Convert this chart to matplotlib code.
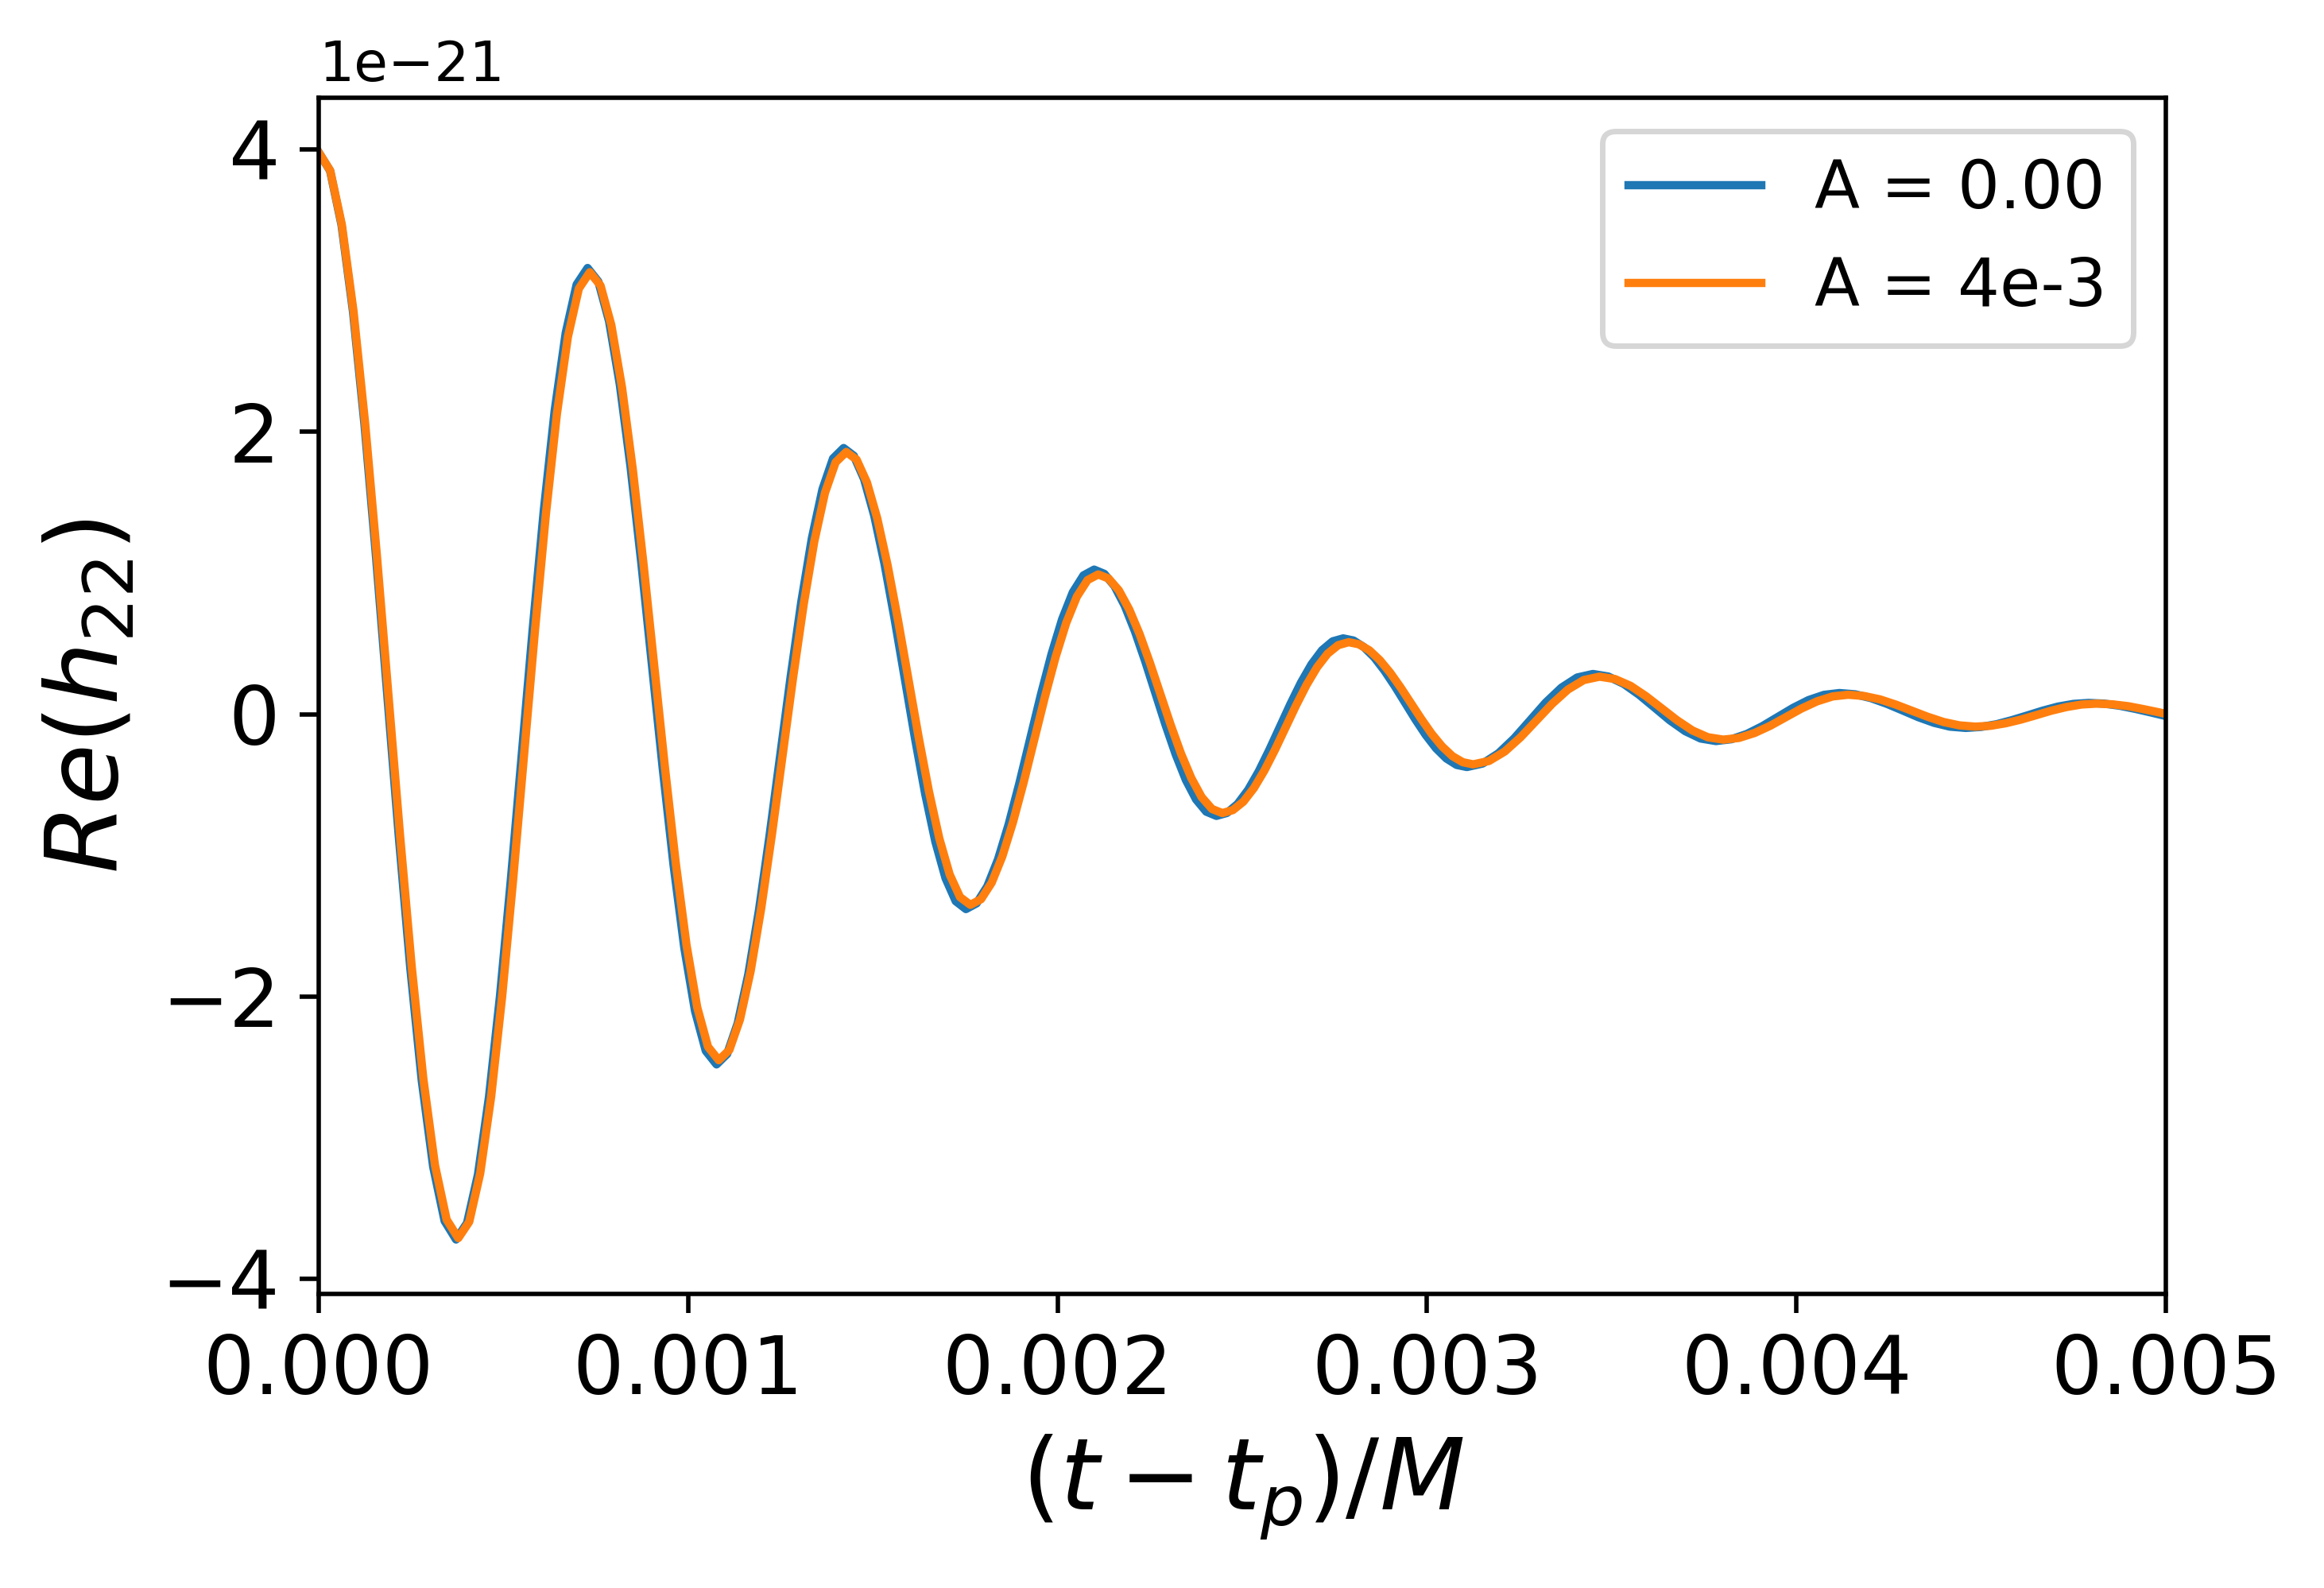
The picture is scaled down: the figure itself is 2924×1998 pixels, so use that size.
import numpy as np
import matplotlib
matplotlib.use('Agg')
import matplotlib.pyplot as plt

# %% values (Re(h22) in units of 1e-21)
t_a0 = [0.0, 0.000031, 0.000062, 0.000093, 0.000124, 0.000155, 0.000186, 0.000217, 0.000248, 0.000279, 0.00031, 0.000341,
        0.000372, 0.0004017, 0.0004313, 0.000461, 0.0004907, 0.0005203, 0.00055, 0.0005797, 0.0006093, 0.000639, 0.0006687, 0.0006983,
        0.000728, 0.0007571, 0.0007862, 0.0008152, 0.0008443, 0.0008734, 0.0009025, 0.0009316, 0.0009607, 0.0009897, 0.0010188, 0.0010479,
        0.001077, 0.0011057, 0.0011343, 0.001163, 0.0011917, 0.0012203, 0.001249, 0.0012777, 0.0013063, 0.001335, 0.0013637, 0.0013923,
        0.001421, 0.0014486, 0.0014762, 0.0015037, 0.0015313, 0.0015589, 0.0015865, 0.0016141, 0.0016417, 0.0016692, 0.0016968, 0.0017244,
        0.001752, 0.0017809, 0.0018098, 0.0018388, 0.0018677, 0.0018966, 0.0019255, 0.0019544, 0.0019834, 0.0020123, 0.0020412, 0.0020701,
        0.002099, 0.0021266, 0.0021542, 0.0021817, 0.0022093, 0.0022369, 0.0022645, 0.0022921, 0.0023197, 0.0023472, 0.0023748, 0.0024024,
        0.00243, 0.0024586, 0.0024872, 0.0025158, 0.0025443, 0.0025729, 0.0026015, 0.0026301, 0.0026587, 0.0026872, 0.0027158, 0.0027444,
        0.002773, 0.0028009, 0.0028288, 0.0028568, 0.0028847, 0.0029126, 0.0029405, 0.0029684, 0.0029963, 0.0030243, 0.0030522, 0.0030801,
        0.003108, 0.0031506, 0.0031933, 0.0032359, 0.0032785, 0.0033211, 0.0033638, 0.0034064,
        0.003449, 0.0034906, 0.0035323, 0.0035739, 0.0036155, 0.0036571, 0.0036988, 0.0037404,
        0.003782, 0.0038238, 0.0038655, 0.0039073, 0.003949, 0.0039908, 0.0040325, 0.0040743,
        0.004116, 0.0041588, 0.0042015, 0.0042443, 0.004287, 0.0043298, 0.0043725, 0.0044153,
        0.004458, 0.0044996, 0.0045413, 0.0045829, 0.0046245, 0.0046661, 0.0047078, 0.0047494,
        0.004791, 0.0048329, 0.0048748, 0.0049166, 0.0049585, 0.005]
h_a0 = [3.98, 3.849, 3.464, 2.852, 2.055, 1.127, 0.13, -0.867, -1.795, -2.592, -3.204, -3.589,
        -3.72, -3.603, -3.259, -2.712, -2.0, -1.171, -0.28, 0.611, 1.44, 2.152, 2.699, 3.043,
        3.16, 3.064, 2.782, 2.334, 1.75, 1.07, 0.34, -0.39, -1.07, -1.654, -2.102, -2.384,
        -2.48, -2.406, -2.188, -1.841, -1.389, -0.863, -0.298, 0.268, 0.794, 1.246, 1.593, 1.811,
        1.885, 1.83, 1.666, 1.407, 1.069, 0.675, 0.253, -0.17, -0.564, -0.902, -1.161, -1.324,
        -1.38, -1.339, -1.219, -1.028, -0.779, -0.489, -0.178, 0.133, 0.423, 0.672, 0.863, 0.983,
        1.024, 0.994, 0.907, 0.769, 0.588, 0.378, 0.152, -0.074, -0.284, -0.465, -0.603, -0.69,
        -0.72, -0.699, -0.636, -0.536, -0.406, -0.254, -0.092, 0.071, 0.223, 0.353, 0.453, 0.516,
        0.537, 0.522, 0.476, 0.404, 0.309, 0.2, 0.082, -0.036, -0.146, -0.241, -0.313, -0.359,
        -0.374, -0.349, -0.277, -0.171, -0.045, 0.082, 0.188, 0.26,
        0.285, 0.267, 0.215, 0.138, 0.048, -0.043, -0.12, -0.172,
        -0.19, -0.177, -0.14, -0.085, -0.02, 0.045, 0.1, 0.137,
        0.15, 0.141, 0.114, 0.074, 0.027, -0.021, -0.061, -0.088,
        -0.097, -0.09, -0.071, -0.042, -0.009, 0.025, 0.054, 0.073,
        0.08, 0.075, 0.06, 0.038, 0.013, -0.013]

t_a4 = [0.0, 0.0000315, 0.000063, 0.0000945, 0.000126, 0.0001575, 0.000189, 0.0002205, 0.000252, 0.0002835, 0.000315, 0.0003465,
        0.000378, 0.0004077, 0.0004373, 0.000467, 0.0004967, 0.0005263, 0.000556, 0.0005857, 0.0006153, 0.000645, 0.0006747, 0.0007043,
        0.000734, 0.0007631, 0.0007922, 0.0008212, 0.0008503, 0.0008794, 0.0009085, 0.0009376, 0.0009667, 0.0009957, 0.0010248, 0.0010539,
        0.001083, 0.0011118, 0.0011405, 0.0011693, 0.001198, 0.0012268, 0.0012555, 0.0012843, 0.001313, 0.0013418, 0.0013705, 0.0013993,
        0.001428, 0.001456, 0.001484, 0.001512, 0.00154, 0.001568, 0.001596, 0.001624, 0.001652, 0.00168, 0.001708, 0.001736,
        0.001764, 0.0017928, 0.0018217, 0.0018505, 0.0018793, 0.0019082, 0.001937, 0.0019658, 0.0019947, 0.0020235, 0.0020523, 0.0020812,
        0.00211, 0.002138, 0.002166, 0.002194, 0.002222, 0.00225, 0.002278, 0.002306, 0.002334, 0.002362, 0.00239, 0.002418,
        0.002446, 0.0024745, 0.002503, 0.0025315, 0.00256, 0.0025885, 0.002617, 0.0026455, 0.002674, 0.0027025, 0.002731, 0.0027595,
        0.002788, 0.0028161, 0.0028442, 0.0028722, 0.0029003, 0.0029284, 0.0029565, 0.0029846, 0.0030127, 0.0030407, 0.0030688, 0.0030969,
        0.003125, 0.0031678, 0.0032105, 0.0032533, 0.003296, 0.0033388, 0.0033815, 0.0034243,
        0.003467, 0.0035089, 0.0035508, 0.0035926, 0.0036345, 0.0036764, 0.0037183, 0.0037601,
        0.003802, 0.0038443, 0.0038865, 0.0039288, 0.003971, 0.0040133, 0.0040555, 0.0040978,
        0.00414, 0.004183, 0.004226, 0.004269, 0.004312, 0.004355, 0.004398, 0.004441,
        0.004484, 0.0045251, 0.0045663, 0.0046074, 0.0046485, 0.0046896, 0.0047308, 0.0047719,
        0.004813, 0.0048551, 0.0048973, 0.0049394, 0.0049815, 0.005]
h_a4 = [3.98, 3.849, 3.465, 2.853, 2.058, 1.131, 0.135, -0.861, -1.788, -2.583, -3.195, -3.579,
        -3.71, -3.594, -3.252, -2.708, -2.0, -1.176, -0.29, 0.596, 1.42, 2.128, 2.672, 3.014,
        3.13, 3.035, 2.756, 2.313, 1.735, 1.063, 0.34, -0.383, -1.055, -1.633, -2.076, -2.355,
        -2.45, -2.377, -2.161, -1.819, -1.373, -0.854, -0.297, 0.261, 0.78, 1.226, 1.568, 1.784,
        1.857, 1.803, 1.642, 1.387, 1.055, 0.669, 0.254, -0.162, -0.548, -0.88, -1.135, -1.295,
        -1.35, -1.31, -1.193, -1.007, -0.765, -0.483, -0.18, 0.123, 0.405, 0.647, 0.833, 0.95,
        0.99, 0.961, 0.877, 0.742, 0.568, 0.364, 0.145, -0.074, -0.278, -0.452, -0.587, -0.671,
        -0.7, -0.679, -0.619, -0.523, -0.398, -0.252, -0.095, 0.062, 0.208, 0.333, 0.429, 0.489,
        0.51, 0.495, 0.452, 0.383, 0.294, 0.19, 0.078, -0.034, -0.139, -0.228, -0.297, -0.34,
        -0.355, -0.331, -0.264, -0.163, -0.045, 0.074, 0.175, 0.242,
        0.266, 0.249, 0.201, 0.128, 0.043, -0.042, -0.115, -0.163,
        -0.18, -0.168, -0.133, -0.082, -0.021, 0.04, 0.091, 0.126,
        0.138, 0.129, 0.105, 0.068, 0.025, -0.018, -0.055, -0.079,
        -0.088, -0.082, -0.064, -0.038, -0.007, 0.025, 0.051, 0.069,
        0.075, 0.07, 0.057, 0.036, 0.013, 0.003]

labels = ['A = 0.00', 'A = 4e-3']
x_ticks = [0.0, 0.001, 0.002, 0.003, 0.004, 0.005]

# %% plot
fig = plt.figure(figsize=(2924 / 500, 1998 / 500), dpi=500)
ax = fig.add_axes([0.1371, 0.1852, 0.7949, 0.7532])

ax.plot(t_a0, np.array(h_a0) * 1e-21, label=labels[0])
ax.plot(t_a4, np.array(h_a4) * 1e-21, label=labels[1])

ax.set_xlim(0, 0.005)
ax.set_xticks(x_ticks)
ax.tick_params(labelsize=14.6)
ax.set_xlabel(r'$(t - t_p)/M$', fontsize=18)
ax.set_ylabel(r'$Re(h_{22})$', fontsize=18)
ax.legend(fontsize=12, loc='upper right')

fig.savefig('out.png', dpi=500)
